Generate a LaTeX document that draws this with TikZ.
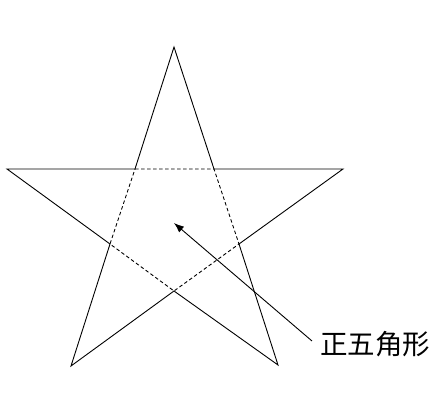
\documentclass[tikz,border=0pt]{standalone}
\usepackage{fontspec}
\newfontfamily\cjk{Noto Sans CJK SC}
\usetikzlibrary{arrows.meta}
\tikzstyle{edge} = [line width=0.9pt, line join=miter]
\tikzstyle{inner} = [line width=0.9pt, dashed, dash pattern=on 3.5pt off 2.5pt]
\tikzstyle{arrow} = [line width=0.9pt,-{Latex[length=10pt,width=7.5pt]}]
\tikzstyle{label} = [font=\cjk\fontsize{27.5}{27.5}\selectfont, inner sep=0pt]

\begin{document}
\begin{tikzpicture}[x=1pt, y=-1pt]
    \useasboundingbox (0,0) rectangle (440,414);

    % Outer points
    \coordinate (top) at (174,47);
    \coordinate (left) at (7,169);
    \coordinate (right) at (343,169);
    \coordinate (bottomLeft) at (71,366);
    \coordinate (bottomRight) at (278,365);

    % Inner pentagon
    \coordinate (innerTL) at (135,169);
    \coordinate (innerTR) at (214,169);
    \coordinate (innerR) at (239,244);
    \coordinate (innerB) at (174,291);
    \coordinate (innerL) at (110,244);
    \coordinate (center) at (174,223);

    % Star
    \draw [edge] (top) -- (innerTR) -- (right) -- (innerR) -- (bottomRight) -- (innerB)
        -- (bottomLeft) -- (innerL) -- (left) -- (innerTL) -- cycle;
    \draw [inner] (innerTL) -- (innerTR) -- (innerR) -- (innerB) -- (innerL) -- cycle;

    % Label
    \node (pentagon) [label, anchor=west] at (320,344) {正五角形};
    \coordinate (tail) at (312,341);
    \draw [arrow] (tail) -- (center);

\end{tikzpicture}
\end{document}
